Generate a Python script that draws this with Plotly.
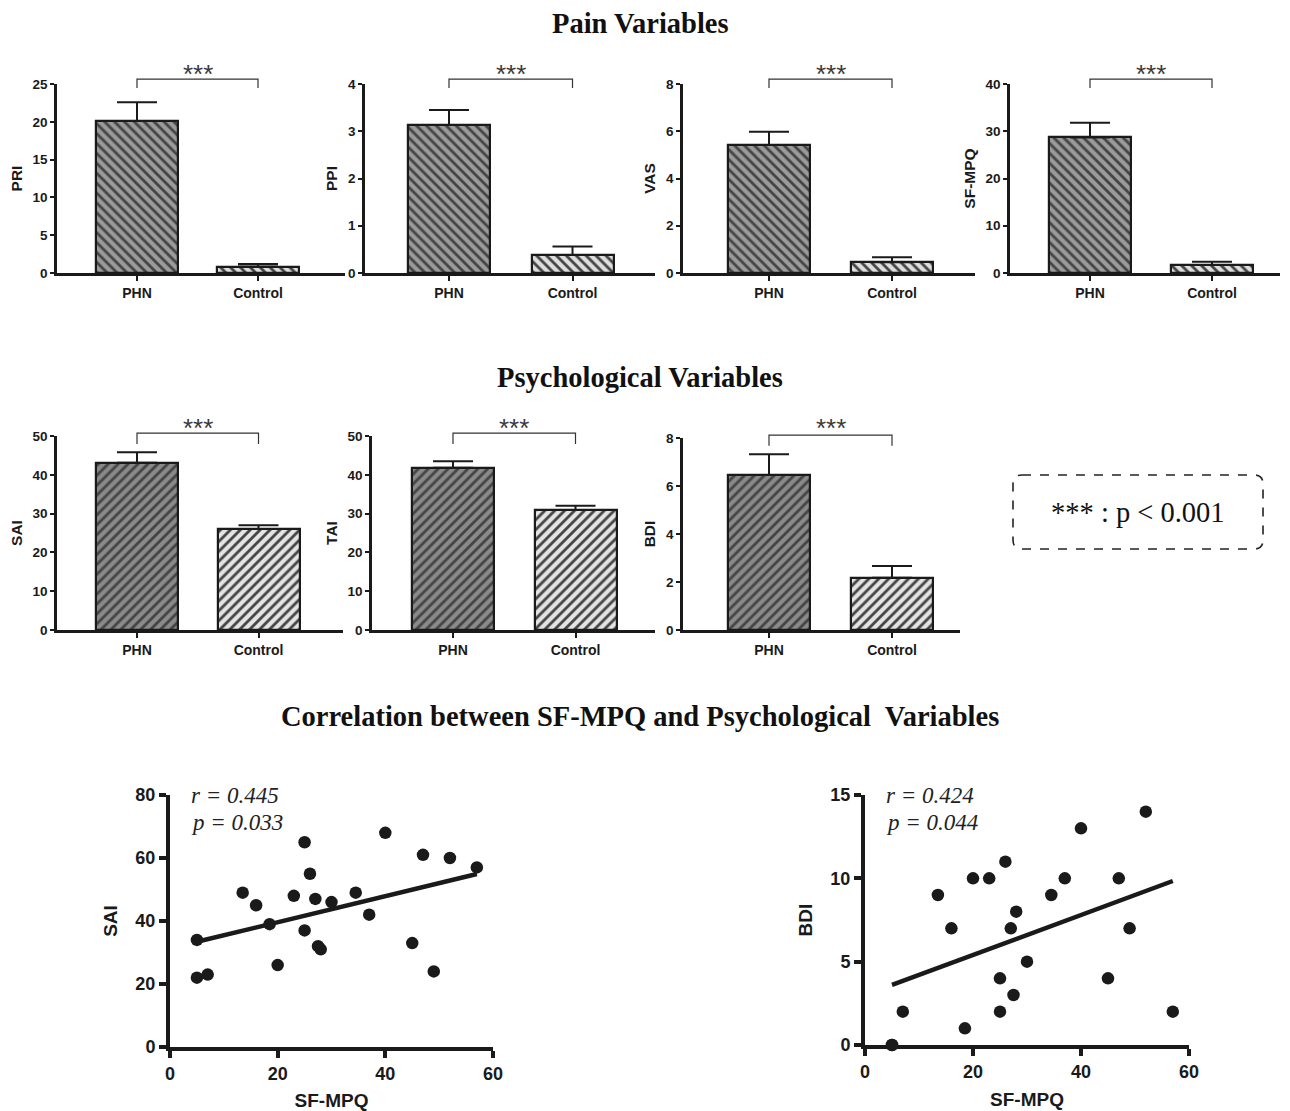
import numpy as np
import plotly.graph_objects as go

# page offset (browser body margin) compensation
OFF = 8
W0, H0 = 1290, 1111          # reference canvas
W, H = W0 - OFF, H0 - OFF    # figure size

# ---------------- data ----------------
groups = ["PHN", "Control"]

pain_vars = ["PRI", "PPI", "VAS", "SF-MPQ"]
pain_phn_mean = [20.1, 3.13, 5.42, 28.7]
pain_phn_sem = [2.5, 0.32, 0.56, 3.1]
pain_ctrl_mean = [0.85, 0.38, 0.46, 1.7]
pain_ctrl_sem = [0.35, 0.18, 0.21, 0.7]
pain_ymax = [25, 4, 8, 40]
pain_dtick = [5, 1, 2, 10]

psych_vars = ["SAI", "TAI", "BDI"]
psych_phn_mean = [43.1, 41.8, 6.46]
psych_phn_sem = [2.7, 1.7, 0.86]
psych_ctrl_mean = [26.0, 30.9, 2.18]
psych_ctrl_sem = [1.0, 1.1, 0.49]
psych_ymax = [50, 50, 8]
psych_dtick = [10, 10, 2]

sfmpq_sai = [5, 5, 7, 13.5, 16, 18.5, 20, 23, 25, 25, 26, 27, 27.5, 28, 30, 34.5, 37, 40, 45, 47, 49, 52, 57]
sai_vals = [34, 22, 23, 49, 45, 39, 26, 48, 65, 37, 55, 47, 32, 31, 46, 49, 42, 68, 33, 61, 24, 60, 57]
sfmpq_bdi = [5, 5, 7, 13.5, 16, 18.5, 20, 23, 25, 25, 26, 27, 27.5, 28, 30, 34.5, 37, 40, 45, 47, 49, 52, 57]
bdi_vals = [0, 0, 2, 9, 7, 1, 10, 10, 4, 2, 11, 7, 3, 8, 5, 9, 10, 13, 4, 10, 7, 14, 2]
corr_r = ["0.445", "0.424"]
corr_p = ["0.033", "0.044"]
scatter_ymax = [80, 15]
scatter_dtick = [20, 5]
scatter_ylabels = ["SAI", "BDI"]

# ---------------- styles / layout geometry (reference pixels) ----------------
SANS = "Liberation Sans, Arial, sans-serif"
SERIF = "Liberation Serif, Times New Roman, serif"
INK = "#1a1a1a"

pain_geom = [(57, 345, 137, 258), (365, 655, 449, 572.5), (683, 975, 769, 892), (1010, 1280, 1090, 1212)]
pain_ypx = [(84, 273)] * 4
psych_geom = [(57, 343, 137, 258.5), (372, 655, 453, 575.5), (683, 960, 769, 892)]
psych_ypx = [(436, 630), (436, 630), (438, 630)]
scatter_geom = [(170, 493, 795, 1047), (865, 1189, 795, 1045)]


def fx(px):
    return (px - OFF) / W


def fy(py):
    return 1 - (py - OFF) / H


def px_dom_x(a, b):
    return [fx(a), fx(b)]


def px_dom_y(top, bottom):
    return [fy(bottom), fy(top)]


fig = go.Figure()
layout = {}
annotations = []
shapes = []
ax_i = [0]


def next_axes():
    ax_i[0] += 1
    n = ax_i[0]
    sx = "" if n == 1 else str(n)
    return n, "x" + sx, "y" + sx, "xaxis" + sx, "yaxis" + sx


def bar_panel(name, phn, phn_e, ctrl, ctrl_e, ymax, dtick, geom, ypx, shape, colors,
              bracket_lo, bracket_hi, star_px):
    n, xr, yr, xk, yk = next_axes()
    x0, x1, cphn, cctl = geom
    unit = cctl - cphn
    rng = [-(cphn - x0) / unit, 1 + (x1 - cctl) / unit]
    bw = 82 / unit
    fig.add_trace(go.Bar(
        x=[0, 1], y=[phn, ctrl], width=bw,
        marker=dict(color=colors, line=dict(color=INK, width=2.2),
                    pattern=dict(shape=shape, fgcolor=INK, fgopacity=1,
                                 size=7, solidity=0.4, fillmode="overlay")),
        error_y=dict(type="data", symmetric=False, array=[phn_e, ctrl_e],
                     arrayminus=[0, 0], width=20, thickness=2, color=INK),
        xaxis=xr, yaxis=yr, showlegend=False, hoverinfo="skip"))
    layout[xk] = dict(domain=px_dom_x(x0, x1), range=rng, anchor=yr, automargin=False,
                      tickvals=[0, 1], ticktext=groups, ticks="outside", ticklen=5,
                      tickwidth=2, tickcolor=INK, showline=True, linewidth=2.5,
                      linecolor=INK, showgrid=False, zeroline=False,
                      tickfont=dict(family=SANS, size=14, color=INK, weight="bold"))
    layout[yk] = dict(domain=px_dom_y(*ypx), range=[0, ymax], dtick=dtick, anchor=xr,
                      automargin=False,
                      ticks="outside", ticklen=4, tickwidth=1.5, tickcolor=INK,
                      showline=True, linewidth=2.5, linecolor=INK, showgrid=False,
                      zeroline=False,
                      tickfont=dict(family=SANS, size=13.5, color=INK, weight="bold"),
                      title=dict(text=name, standoff=7,
                                 font=dict(family=SANS, size=15.5, color=INK, weight="bold")))
    shapes.append(dict(type="path", xref=xr, yref=yr + " domain",
                       path=f"M 0,{bracket_lo} L 0,{bracket_hi} L 1,{bracket_hi} L 1,{bracket_lo}",
                       line=dict(color="#333", width=1.2)))
    annotations.append(dict(x=0.5, y=fy(star_px), xref=xr, yref="paper", text="***",
                            showarrow=False, yanchor="middle",
                            font=dict(family=SANS, size=26, color="#3a3a3a")))


pain_colors = ["#9b9b9b", "#dedede"]
psych_colors = ["#8a8a8a", "#e4e4e4"]

for i in range(4):
    bar_panel(pain_vars[i], pain_phn_mean[i], pain_phn_sem[i], pain_ctrl_mean[i],
              pain_ctrl_sem[i], pain_ymax[i], pain_dtick[i], pain_geom[i], pain_ypx[i],
              "\\", pain_colors, 0.979, 1.026, 74)

for i in range(3):
    bar_panel(psych_vars[i], psych_phn_mean[i], psych_phn_sem[i], psych_ctrl_mean[i],
              psych_ctrl_sem[i], psych_ymax[i], psych_dtick[i], psych_geom[i], psych_ypx[i],
              "/", psych_colors, 0.959, 1.015, 428)

# scatter panels
sc_x = [sfmpq_sai, sfmpq_bdi]
sc_y = [sai_vals, bdi_vals]
for i in range(2):
    n, xr, yr, xk, yk = next_axes()
    gx0, gx1, gy0, gy1 = scatter_geom[i]
    xs = np.array(sc_x[i], dtype=float)
    ys = np.array(sc_y[i], dtype=float)
    slope, icpt = np.polyfit(xs, ys, 1)
    lx = np.array([xs.min(), xs.max()])
    fig.add_trace(go.Scatter(x=lx, y=slope * lx + icpt, mode="lines",
                             line=dict(color=INK, width=4.5), xaxis=xr, yaxis=yr,
                             showlegend=False, hoverinfo="skip"))
    fig.add_trace(go.Scatter(x=xs, y=ys, mode="markers", cliponaxis=False,
                             marker=dict(color=INK, size=12.5), xaxis=xr, yaxis=yr,
                             showlegend=False, hoverinfo="skip"))
    layout[xk] = dict(domain=px_dom_x(gx0, gx1), range=[0, 60], dtick=20, anchor=yr,
                      automargin=False,
                      ticks="outside", ticklen=7, tickwidth=3.5, tickcolor=INK,
                      showline=True, linewidth=4, linecolor=INK, showgrid=False,
                      zeroline=False,
                      tickfont=dict(family=SANS, size=18, color=INK, weight="bold"),
                      title=dict(text="SF-MPQ", standoff=13,
                                 font=dict(family=SANS, size=19, color=INK, weight="bold")))
    layout[yk] = dict(domain=px_dom_y(gy0, gy1), range=[0, scatter_ymax[i]],
                      dtick=scatter_dtick[i], anchor=xr, automargin=False,
                      ticks="outside", ticklen=7, tickwidth=3.5, tickcolor=INK,
                      showline=True, linewidth=4, linecolor=INK, showgrid=False,
                      zeroline=False,
                      tickfont=dict(family=SANS, size=18, color=INK, weight="bold"),
                      title=dict(text=scatter_ylabels[i], standoff=14,
                                 font=dict(family=SANS, size=19, color=INK, weight="bold")))
    for txt, ypix in [(f"r = {corr_r[i]}", 795), (f"p = {corr_p[i]}", 822)]:
        annotations.append(dict(x=fx(gx0 + 19), y=fy(ypix), xref="paper", yref="paper",
                                xanchor="left", yanchor="middle", showarrow=False, text=txt,
                                font=dict(family=SERIF, size=23, color="#222", style="italic")))

# section titles
for txt, ypix in [("Pain Variables", 24), ("Psychological Variables", 377),
                  ("Correlation between SF-MPQ and Psychological  Variables", 716)]:
    annotations.append(dict(x=fx(640), y=fy(ypix), xref="paper", yref="paper",
                            xanchor="center", yanchor="middle", showarrow=False, text=txt,
                            font=dict(family=SERIF, size=28.5, color="#111", weight="bold")))

# significance key box
bx0, bx1, by0, by1, rad = 1013, 1263, 475, 549, 9


def P(x, y):
    return f"{fx(x):.5f},{fy(y):.5f}"


box_path = (f"M {P(bx0 + rad, by0)} L {P(bx1 - rad, by0)} Q {P(bx1, by0)} {P(bx1, by0 + rad)} "
            f"L {P(bx1, by1 - rad)} Q {P(bx1, by1)} {P(bx1 - rad, by1)} "
            f"L {P(bx0 + rad, by1)} Q {P(bx0, by1)} {P(bx0, by1 - rad)} "
            f"L {P(bx0, by0 + rad)} Q {P(bx0, by0)} {P(bx0 + rad, by0)} Z")
shapes.append(dict(type="path", xref="paper", yref="paper", path=box_path,
                   line=dict(color="#222", width=1.6, dash="dash")))
annotations.append(dict(x=fx((bx0 + bx1) / 2), y=fy(512), xref="paper", yref="paper",
                        xanchor="center", yanchor="middle", showarrow=False,
                        text="*** : p &lt; 0.001",
                        font=dict(family=SERIF, size=28.5, color="#111")))

fig.update_layout(width=W, height=H, autosize=False,
                  margin=dict(l=0, r=0, t=0, b=0, autoexpand=False),
                  paper_bgcolor="white", plot_bgcolor="rgba(0,0,0,0)",
                  annotations=annotations, shapes=shapes, bargap=0, **layout)

fig.write_html("out.html")
